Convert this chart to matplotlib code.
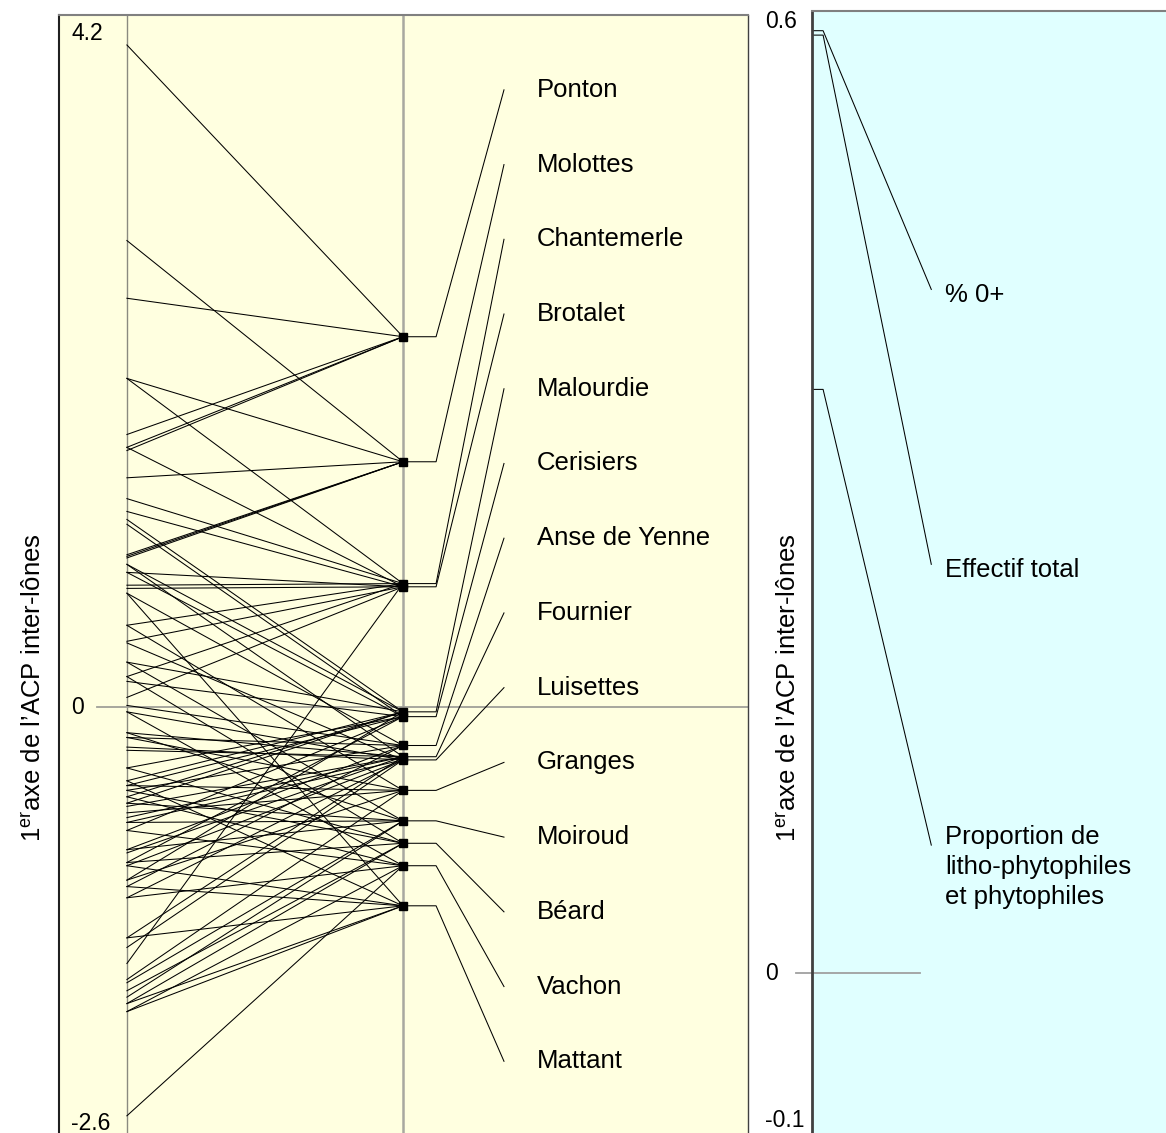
import matplotlib
matplotlib.use('Agg')
import matplotlib.pyplot as plt
import matplotlib.transforms as mtransforms
import numpy as np

plt.rcParams['font.family'] = ['Liberation Sans', 'DejaVu Sans']
plt.rcParams['mathtext.fontset'] = 'custom'
plt.rcParams['mathtext.rm'] = 'Liberation Sans'
plt.rcParams['mathtext.it'] = 'Liberation Sans:italic'

# --- donnees : scores sur le 1er axe de l'ACP inter-lones ---
sites = ['Ponton', 'Molottes', 'Chantemerle', 'Brotalet', 'Malourdie', 'Cerisiers',
         'Anse de Yenne', 'Fournier', 'Luisettes', 'Granges', 'Moiroud', 'Béard',
         'Vachon', 'Mattant']

site_means = [2.31, 1.53, 0.77, 0.75, -0.03, -0.06, -0.24, -0.31, -0.33,
              -0.52, -0.71, -0.85, -0.99, -1.24]

site_points = [
    [4.13, 2.55, 1.70, 1.62, 1.60],                       # Ponton
    [2.91, 2.05, 1.43, 0.95, 0.94, 0.93],                 # Molottes
    [2.05, 1.30, 0.76, 0.51, 0.19, -1.60],                # Chantemerle
    [1.62, 1.22, 0.74, 0.41, 0.06, 0.84],                 # Brotalet
    [1.17, 0.89, 0.28, -0.46, -0.60, -1.08, -0.56],       # Malourdie
    [1.14, 0.84, 0.16, -0.38, -0.77, -0.97, -0.49],       # Cerisiers
    [0.71, 0.01, -0.19, -0.52, -0.89, -1.12],             # Anse de Yenne
    [0.89, -0.16, -0.27, -0.62, -0.69, -1.44, -0.91],     # Fournier
    [0.40, -0.03, -0.25, -0.72, -1.19, -1.50, -0.99],     # Luisettes
    [0.51, -0.19, -0.49, -0.66, -1.70, -1.08],            # Granges
    [0.28, -0.16, -0.60, -0.72, -1.72, -1.81, -0.89],     # Moiroud
    [0.19, -0.38, -0.52, -0.97, -1.77, -1.85],            # Béard
    [-0.03, -0.56, -0.77, -1.19, -1.90, -2.55],           # Vachon
    [0.71, -0.46, -0.99, -1.12, -1.85, -1.44, -1.90],     # Mattant
]

left_ticks = [4.2, 0, -2.6]
left_ticklabels = ['4.2', '0', '-2.6']

variables = ['% 0+', 'Effectif total', 'Proportion de\nlitho-phytophiles\net phytophiles']
var_scores = [0.641, 0.638, 0.397]

right_ticks = [0.647, 0, -0.1]
right_ticklabels = ['0.6', '0', '-0.1']

ylabel = r'1$^{\mathrm{er}}$axe de l’ACP inter-lônes'

W, H = 1166, 1133
fig = plt.figure(figsize=(W / 100, H / 100), dpi=100)

# --- panneau gauche (lones) ---
ax1 = fig.add_axes([59 / W, -7 / H, 689 / W, (H + 7 - 15) / H])
ax1.set_facecolor('#ffffe0')
ax1.set_xlim(-0.246, 2.25)
ax1.set_ylim(-2.701, 4.317)
ax1.set_xticks([])
ax1.set_yticks([])
ax1.spines['left'].set_color('#202020')
ax1.spines['left'].set_linewidth(1.5)
ax1.spines['top'].set_color('#808080')
ax1.spines['top'].set_linewidth(1.5)
ax1.spines['right'].set_color('#404040')
ax1.spines['right'].set_linewidth(1.0)
ax1.spines['bottom'].set_visible(False)

ax1.axvline(0, color='#8a8a80', lw=1.0, zorder=1)
ax1.axvline(1, color='#a8a8a0', lw=1.8, zorder=1)
ax1.axhline(0, xmin=(97 - 59) / 689, xmax=1, color='#a0a098', lw=1.3, zorder=1)

label_y = np.linspace(3.85, -2.21, len(sites))
for i in range(len(sites)):
    for p in site_points[i]:
        ax1.plot([0, 1], [p, site_means[i]], color='black', lw=0.75, zorder=2)
    ax1.plot([1, 1.12, 1.366], [site_means[i], site_means[i], label_y[i]],
             color='black', lw=0.75, zorder=2)
    ax1.text(1.486, label_y[i], sites[i], fontsize=18.5, va='center', ha='left')
ax1.plot(np.ones(len(site_means)), site_means, 's', color='black', ms=5.5, zorder=3)

tr1 = mtransforms.blended_transform_factory(fig.transFigure, ax1.transData)
for t, lab in zip(left_ticks, left_ticklabels):
    ax1.text(71 / W, t, lab, transform=tr1, fontsize=16.5, ha='left', va='center')

fig.text(35 / W, 1 - 688 / H, ylabel, rotation=90, ha='center', va='center', fontsize=18.5)

# --- panneau droit (variables) ---
ax2 = fig.add_axes([812 / W, -7 / H, 0.31, (H + 7 - 11) / H])
ax2.set_facecolor('#e0ffff')
ax2.set_xlim(0, 3.03)
ax2.set_ylim(-0.1136, 0.6544)
ax2.set_xticks([])
ax2.set_yticks([])
ax2.spines['left'].set_color('#404040')
ax2.spines['left'].set_linewidth(2.0)
ax2.spines['top'].set_color('#808080')
ax2.spines['top'].set_linewidth(1.5)
ax2.spines['right'].set_visible(False)
ax2.spines['bottom'].set_visible(False)

ax2.plot([-0.136, 0.907], [0, 0], color='#a0a0a0', lw=1.3, clip_on=False, zorder=1)

var_label_y = [0.465, 0.278, 0.087]
for v, s, ly in zip(variables, var_scores, var_label_y):
    ax2.plot([0, 0.093, 1.0], [s, s, ly], color='black', lw=0.75, zorder=2)
    if '\n' in v:
        ax2.text(1.119, ly + 0.014, v, fontsize=18.5, va='top', ha='left', linespacing=1.32)
    else:
        ax2.text(1.119, ly - 0.004, v, fontsize=18.5, va='center', ha='left')

tr2 = mtransforms.blended_transform_factory(fig.transFigure, ax2.transData)
for t, lab in zip(right_ticks, right_ticklabels):
    ax2.text(765 / W, t, lab, transform=tr2, fontsize=16.5, ha='left', va='center')

fig.text(790 / W, 1 - 688 / H, ylabel, rotation=90, ha='center', va='center', fontsize=18.5)

fig.savefig('out.png', dpi=100)
